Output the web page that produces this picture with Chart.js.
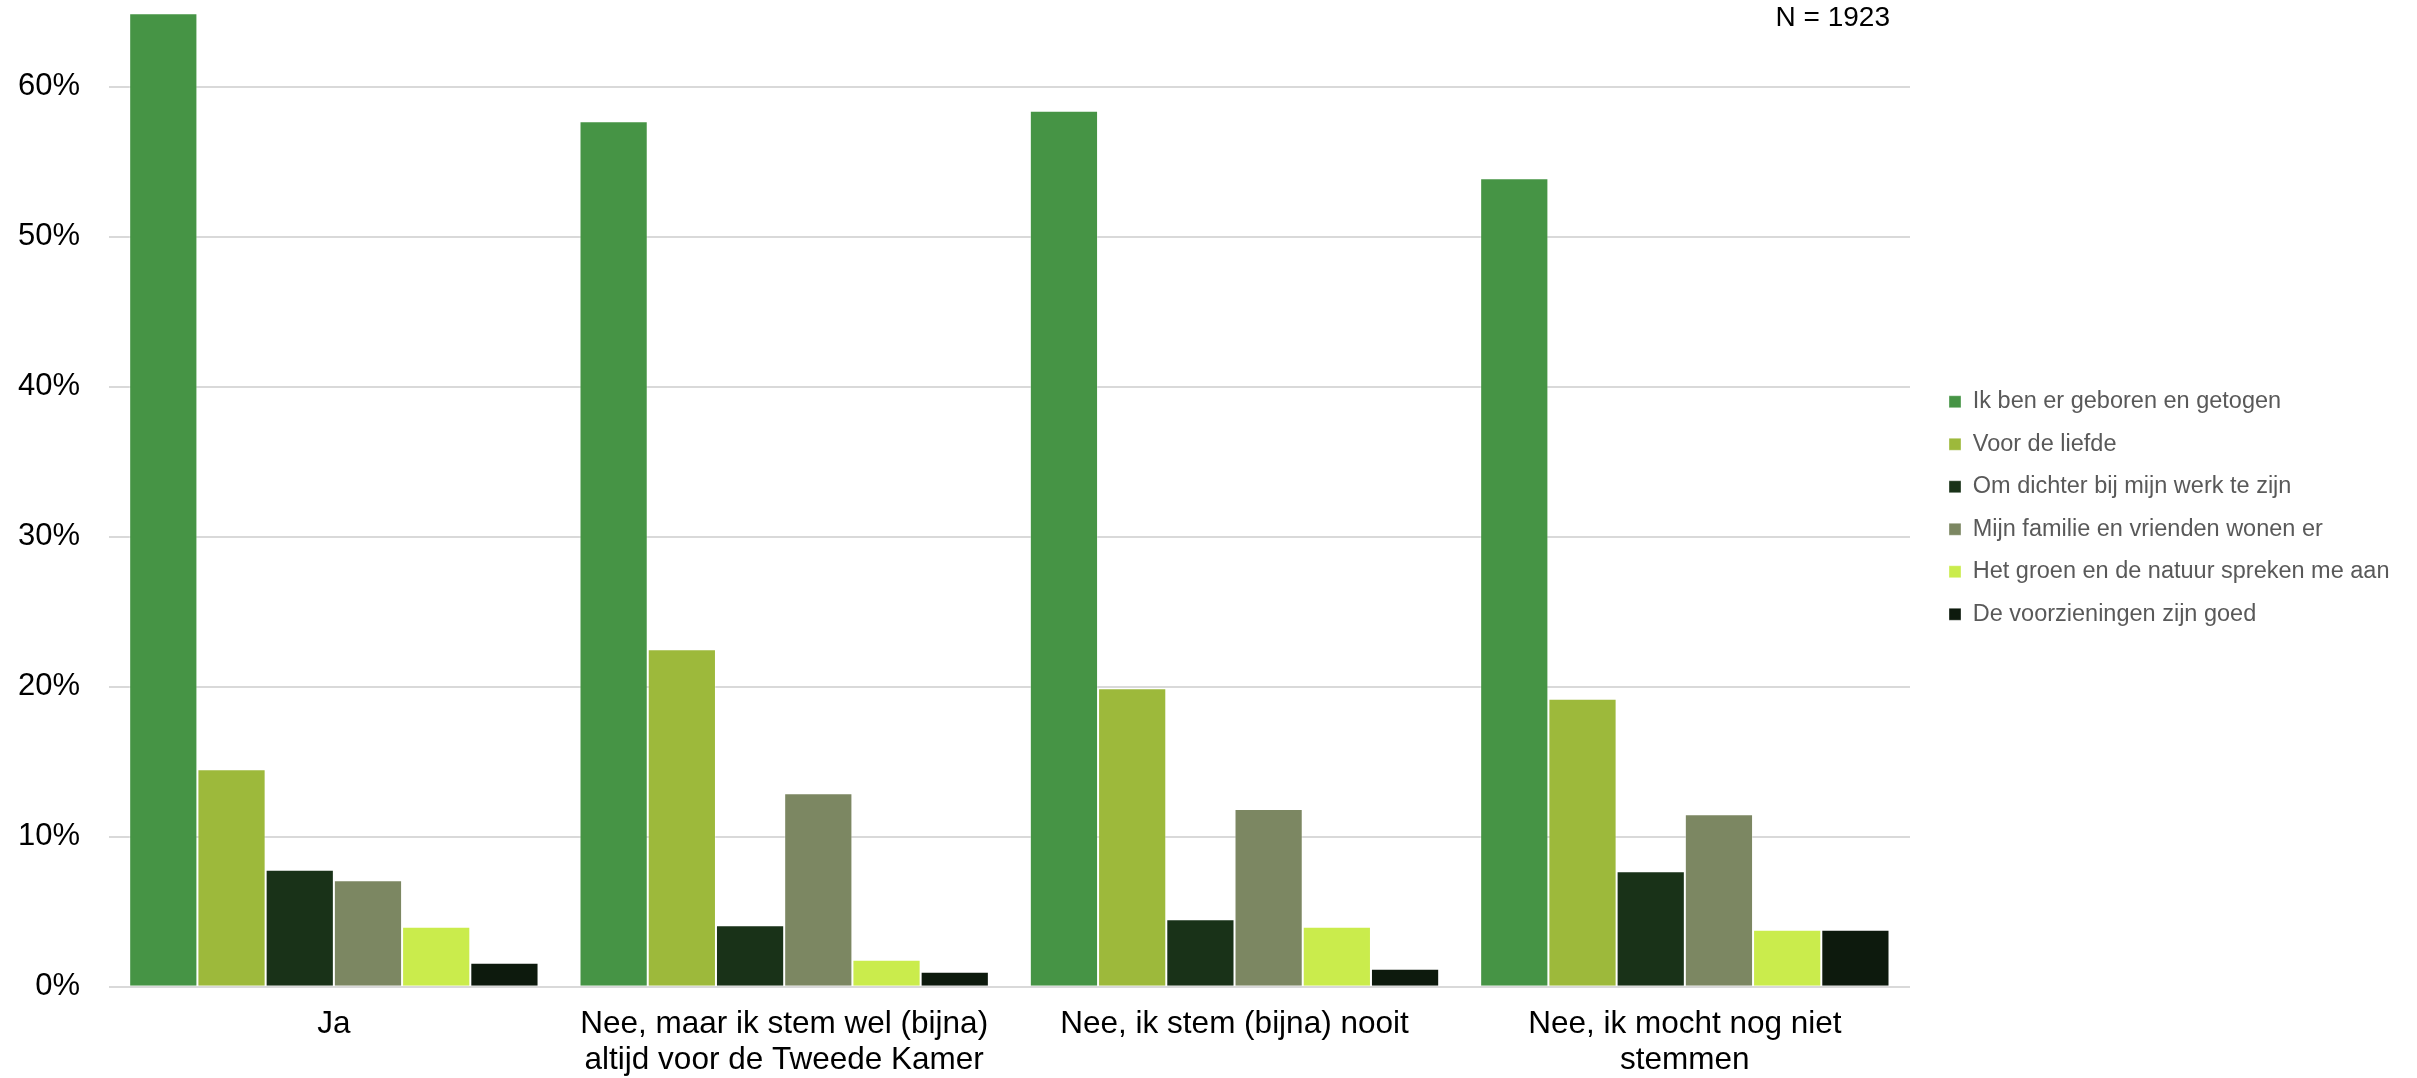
<!DOCTYPE html>
<html>
<head>
<meta charset="utf-8">
<script src="https://cdn.jsdelivr.net/npm/chart.js@4.4.1/dist/chart.umd.min.js"></script>
<style>
  html, body { margin: 0; padding: 0; background: #ffffff; overflow: hidden; }
  #wrap { position: relative; width: 2417px; height: 1078px; }
</style>
</head>
<body>
<div id="wrap"><canvas id="c"></canvas></div>
<script>
// ---- data ----
const categories = [
  "Ja",
  ["Nee, maar ik stem wel (bijna)", "altijd voor de Tweede Kamer"],
  "Nee, ik stem (bijna) nooit",
  ["Nee, ik mocht nog niet", "stemmen"]
];

const seriesNames = [
  "Ik ben er geboren en getogen",
  "Voor de liefde",
  "Om dichter bij mijn werk te zijn",
  "Mijn familie en vrienden wonen er",
  "Het groen en de natuur spreken me aan",
  "De voorzieningen zijn goed"
];
const geborenGetogen = [64.9, 57.7, 58.4, 53.9];
const voorDeLiefde   = [14.5, 22.5, 19.9, 19.2];
const dichterBijWerk = [7.8, 4.1, 4.5, 7.7];
const familieVrienden = [7.1, 12.9, 11.85, 11.5];
const groenNatuur    = [4.0, 1.8, 4.0, 3.8];
const voorzieningen  = [1.6, 1.0, 1.2, 3.8];
const yTicks = [0, 10, 20, 30, 40, 50, 60];
const sampleNote = "N = 1923";

const seriesValues = [geborenGetogen, voorDeLiefde, dichterBijWerk, familieVrienden, groenNatuur, voorzieningen];
const seriesColors = ["#469445", "#9db93b", "#193218", "#7c8762", "#caec4c", "#0d1a0d"];

const FONT = '"Liberation Sans", Arial, sans-serif';

const notePlugin = {
  id: 'note',
  afterDraw(chart) {
    const ctx = chart.ctx;
    ctx.save();
    ctx.font = '28px ' + FONT;
    ctx.fillStyle = '#000000';
    ctx.textAlign = 'right';
    ctx.textBaseline = 'middle';
    ctx.fillText(sampleNote, 1890, 18);
    ctx.restore();
  }
};

const legendPosPlugin = {
  id: 'legendPos',
  afterLayout(chart) {
    const l = chart.legend;
    if (!l) return;
    const w = l.width, h = l.height;
    l.left = 1930;
    l.top = 371;
    l.right = l.left + w;
    l.bottom = l.top + h;
  }
};

new Chart(document.getElementById('c'), {
  type: 'bar',
  data: {
    labels: categories,
    datasets: seriesNames.map((name, i) => ({
      label: name,
      data: seriesValues[i],
      backgroundColor: seriesColors[i],
      borderColor: 'rgba(255,255,255,0.35)',
      borderWidth: 1,
      categoryPercentage: 0.909,
      barPercentage: 1.0
    }))
  },
  options: {
    responsive: true,
    maintainAspectRatio: false,
    animation: false,
    layout: { padding: { top: 11.7, right: 507, bottom: 0, left: 0 } },
    plugins: {
      legend: {
        position: 'chartArea',
        align: 'start',
        labels: {
          boxWidth: 12,
          boxHeight: 12,
          padding: 19,
          color: '#595959',
          font: { family: FONT, size: 23.5 }
        }
      },
      tooltip: { enabled: false },
      title: { display: false }
    },
    scales: {
      x: {
        grid: { display: false, drawTicks: false },
        border: { display: false },
        ticks: {
          color: '#000000',
          padding: 19.5,
          font: { family: FONT, size: 31.5, lineHeight: 1.15 },
          maxRotation: 0,
          autoSkip: false
        },
        afterFit(s) { s.height = 91.3; s.paddingLeft = 0; s.paddingRight = 0; }
      },
      y: {
        min: 0,
        max: 65,
        grid: { color: '#d9d9d9', lineWidth: 2, drawTicks: false },
        border: { display: false },
        ticks: {
          stepSize: 10,
          color: '#000000',
          padding: 28.7,
          font: { family: FONT, size: 31 },
          callback: (v) => v + '%'
        },
        afterBuildTicks(s) { s.ticks = yTicks.map(v => ({ value: v })); },
        afterFit(s) { s.width = 108.7; s.paddingTop = 0; s.paddingBottom = 0; }
      }
    }
  },
  plugins: [notePlugin, legendPosPlugin]
});
</script>
</body>
</html>
